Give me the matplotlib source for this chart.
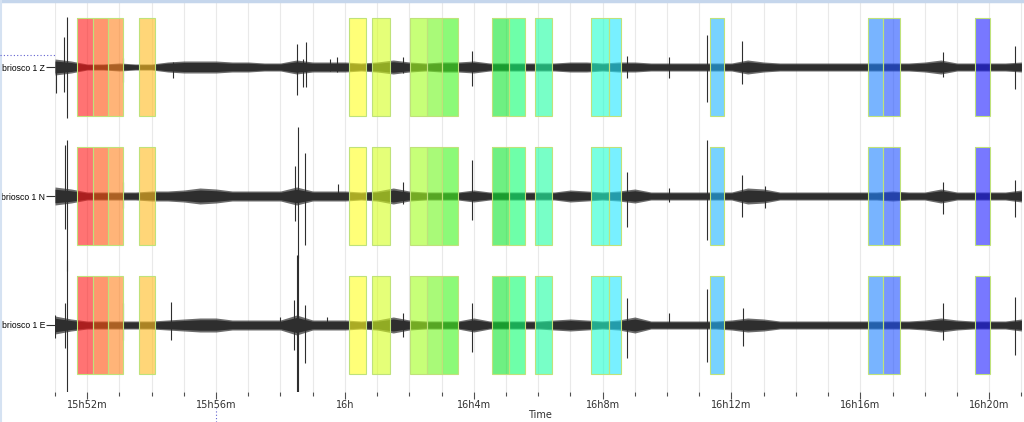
import numpy as np
import matplotlib.pyplot as plt
from matplotlib.lines import Line2D
from matplotlib.patches import Rectangle

# all times in minutes after 15:00
channels = ['briosco 1 Z', 'briosco 1 N', 'briosco 1 E']

# trace envelope (half amplitude) read every half minute from 15h51m
env_t = np.arange(51.0, 81.01, 0.5)
env_z = [8, 6, 3, 3, 4, 3, 3, 5, 6, 6, 6, 5, 5, 4, 4, 7, 5, 5, 5, 4,
         5, 7, 5, 4, 5, 5, 6, 4, 4, 4, 4, 4, 5, 5, 4, 5, 5, 4, 4, 4,
         4, 4, 4, 7, 5, 4, 4, 4, 4, 4, 4, 4, 4, 4, 5, 7, 4, 4, 4, 4, 5]
env_n = [9, 7, 4, 4, 4, 4, 5, 5, 6, 8, 7, 5, 5, 5, 5, 9, 5, 5, 5, 4,
         5, 8, 5, 4, 4, 4, 6, 4, 4, 4, 4, 4, 6, 5, 4, 5, 7, 4, 4, 4,
         4, 4, 4, 8, 7, 4, 4, 4, 4, 4, 4, 4, 5, 4, 4, 7, 4, 4, 4, 4, 6]
env_e = [9, 6, 4, 4, 4, 4, 4, 5, 6, 7, 7, 5, 5, 5, 5, 10, 5, 5, 5, 4,
         5, 8, 5, 4, 4, 4, 7, 4, 4, 4, 4, 5, 6, 5, 4, 5, 8, 4, 4, 4,
         4, 4, 5, 7, 6, 4, 4, 4, 4, 4, 4, 4, 4, 4, 5, 7, 5, 4, 4, 4, 6]

# individual peaks: time, amplitude up, amplitude down
spk_z_t = [51.03, 51.28, 51.38, 53.11, 54.66, 58.52, 58.70, 58.79, 59.54, 59.75,
           61.81, 63.96, 68.75, 70.07, 71.23, 72.32, 78.58, 80.80]
spk_z_up = [5, 30, 50, 9, 5, 23, 8, 25, 8, 10, 10, 16, 11, 10, 32, 26, 15, 21]
spk_z_dn = [26, 25, 51, 15, 11, 28, 20, 20, 4, 5, 6, 19, 11, 11, 35, 17, 10, 22]

spk_n_t = [51.31, 51.38, 53.11, 58.45, 58.55, 58.76, 59.79, 61.81, 63.96, 68.75,
           70.07, 71.23, 72.32, 73.04, 78.58, 80.80]
spk_n_up = [51, 56, 14, 30, 69, 43, 12, 14, 36, 24, 8, 56, 21, 10, 14, 16]
spk_n_dn = [33, 75, 12, 25, 62, 49, 3, 8, 24, 31, 6, 44, 21, 12, 18, 21]

spk_e_t = [51.01, 51.31, 51.38, 53.11, 54.60, 57.98, 58.42, 58.50, 58.55, 58.76,
           59.43, 61.81, 63.96, 68.75, 70.07, 71.23, 72.35, 78.58, 80.80]
spk_e_up = [10, 22, 65, 22, 23, 8, 25, 70, 70, 20, 8, 12, 22, 27, 12, 36, 17, 22, 28]
spk_e_dn = [13, 23, 67, 15, 15, 3, 25, 75, 75, 38, 3, 12, 27, 33, 2, 37, 21, 15, 30]

# selected windows
win_start = [51.68, 52.19, 52.64, 53.60, 60.13, 60.85, 62.01, 62.54, 63.02,
             64.57, 65.10, 65.91, 67.65, 68.19, 71.32, 76.24, 76.71, 79.55]
win_end = [52.17, 52.64, 53.10, 54.11, 60.64, 61.39, 62.54, 63.02, 63.52,
           65.10, 65.59, 66.42, 68.19, 68.56, 71.76, 76.71, 77.23, 80.03]
win_colors = ['#ff1616', '#ff500d', '#ff821e', '#ffbc1e', '#ffff1e', '#d5ff1e',
              '#a3ff1e', '#71f71e', '#3ff71e', '#0de62f', '#0dff71', '#1effa3',
              '#1effcd', '#1ee6ff', '#1eb4ff', '#1e82ff', '#1e50ff', '#1e1eff']

major_ticks = [52, 56, 60, 64, 68, 72, 76, 80]
major_labels = ['15h52m', '15h56m', '16h', '16h4m', '16h8m', '16h12m', '16h16m', '16h20m']

offsets = [258, 129, 0]
trace_col = '#2e2e2e'

fig = plt.figure(figsize=(10.24, 4.22), dpi=100)
ax = fig.add_axes([55 / 1024, 30 / 422, 969 / 1024, 389 / 422])

ax.set_xticks(np.arange(51, 82, 1), minor=True)
ax.grid(True, axis='x', which='both', color='#e9e9e9', lw=0.8, zorder=0)

traces = [(env_z, spk_z_t, spk_z_up, spk_z_dn),
          (env_n, spk_n_t, spk_n_up, spk_n_dn),
          (env_e, spk_e_t, spk_e_up, spk_e_dn)]
for off, (env, st, su, sd) in zip(offsets, traces):
    env = np.array(env, dtype=float)
    # fuzzy outer edge and solid core
    ax.fill_between(env_t, off - env, off + env, color=trace_col, alpha=0.7,
                    lw=0, zorder=2)
    ax.fill_between(env_t, off - 0.75 * env, off + 0.75 * env, color=trace_col,
                    lw=0, zorder=2)
    ax.vlines(st, off - np.array(sd), off + np.array(su), color=trace_col,
              lw=0.8, zorder=2)

    for s, e, c in zip(win_start, win_end, win_colors):
        ax.add_patch(Rectangle((s, off - 49), e - s, 98, facecolor=c, alpha=0.6,
                               edgecolor='none', zorder=3))
        ax.add_patch(Rectangle((s, off - 49), e - s, 98, facecolor='none',
                               edgecolor='#bfe27a', lw=0.8, zorder=4))

ax.set_xlim(51.0, 81.08)
ax.set_ylim(-67, 322)
for sp in ax.spines.values():
    sp.set_visible(False)

ax.set_yticks(offsets)
ax.set_yticklabels(channels, fontsize=6.2, family='Liberation Sans')
ax.tick_params(axis='y', length=6.2, width=0.8, color='#303030', pad=1)
ax.set_xticks(major_ticks)
ax.set_xticklabels(major_labels, fontsize=7, color='#303030')
ax.tick_params(axis='x', which='major', length=5, width=0.8, color='#505050', pad=1)
ax.tick_params(axis='x', which='minor', length=3, width=0.8, color='#505050')
ax.set_xlabel('Time', fontsize=7, color='#303030', labelpad=0)

# window frame and cursor remnants
fig.add_artist(Line2D([0, 1], [0.997, 0.997], color='#c5d6ec', lw=2.5))
fig.add_artist(Line2D([0.001, 0.001], [0, 1], color='#d5e2f2', lw=1.5))
fig.add_artist(Line2D([0, 55 / 1024], [1 - 55 / 422, 1 - 55 / 422],
                      color='#6060d0', lw=0.8, ls=(0, (1, 2))))
fig.add_artist(Line2D([216 / 1024, 216 / 1024], [0, 14 / 422],
                      color='#6060d0', lw=0.8, ls=(0, (1, 2))))

fig.savefig('out.png', dpi=100)
